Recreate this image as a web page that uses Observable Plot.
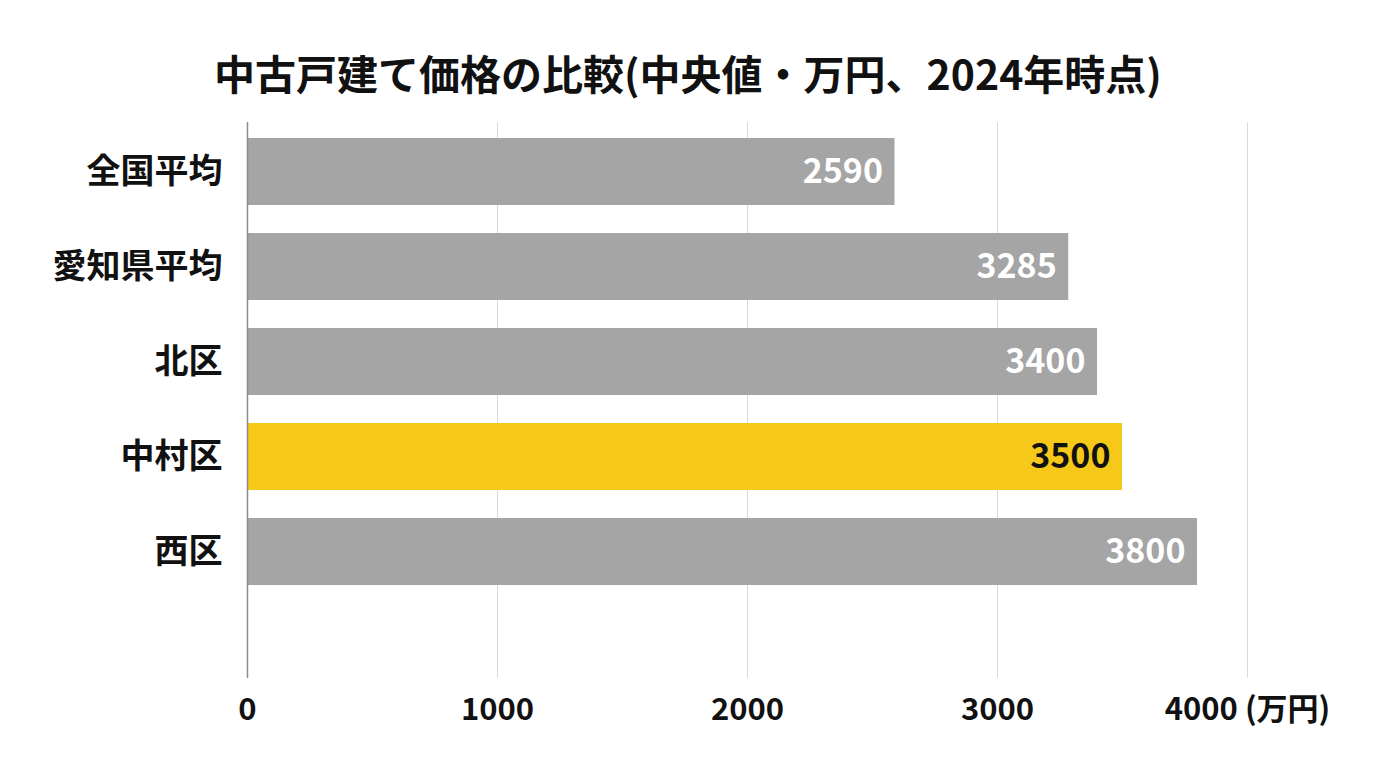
<!DOCTYPE html>
<html>
<head>
<meta charset="utf-8">
<script src="https://cdn.jsdelivr.net/npm/d3@7"></script>
<script src="https://cdn.jsdelivr.net/npm/@observablehq/plot@0.6"></script>
<style>
  html, body { margin: 0; padding: 0; background: #fff; }
  body { width: 1376px; height: 768px; overflow: hidden; font-family: "Noto Sans CJK JP", "Noto Sans", sans-serif; color: #111; }
  #title { box-sizing: border-box; height: 100px; padding-top: 52px; line-height: 41px; font-size: 41px; font-weight: 700; text-align: center; }
  #chart svg { display: block; }
</style>
</head>
<body>
<div id="title">中古戸建て価格の比較(中央値・万円、2024年時点)</div>
<div id="chart"></div>
<script>
const categories = ["全国平均", "愛知県平均", "北区", "中村区", "西区"];
const values = [2590, 3285, 3400, 3500, 3800];
const highlight = "中村区";
const xTicks = [0, 1000, 2000, 3000, 4000];
const unitLabel = "(万円)";

const grey = "#a5a5a5";
const yellow = "#f6c81a";

const data = categories.map((c, i) => ({cat: c, value: values[i]}));

const chart = Plot.plot({
  width: 1376,
  height: 668,
  marginLeft: 247,
  marginRight: 129,
  marginTop: 22,
  marginBottom: 90,
  style: {fontFamily: "'Noto Sans CJK JP', 'Noto Sans', sans-serif", background: "transparent", color: "#111"},
  color: {type: "identity"},
  x: {domain: [0, 4000]},
  y: {domain: categories, range: [22, 502], paddingInner: 0.29, paddingOuter: 0.155},
  marks: [
    Plot.gridX(xTicks, {stroke: "#d9d9d9", strokeOpacity: 1}),
    Plot.barX(data, {x: "value", y: "cat", fill: d => d.cat === highlight ? yellow : grey}),
    Plot.ruleX([0], {stroke: "#8c8c8c", strokeWidth: 1.5}),
    Plot.text(data, {
      x: "value", y: "cat", text: d => String(d.value),
      textAnchor: "end", dx: -12, fontSize: 34, fontWeight: "bold",
      fill: d => d.cat === highlight ? "#111" : "#ffffff"
    }),
    Plot.axisX(xTicks, {
      tickSize: 0, tickPadding: 19, fontSize: 31, fontWeight: "bold", label: null,
      tickFormat: d => d === 4000 ? `${d} ${unitLabel}` : String(d)
    }),
    Plot.axisY({tickSize: 0, tickPadding: 25, fontSize: 34, fontWeight: "bold", label: null})
  ]
});
document.getElementById("chart").appendChild(chart);
</script>
</body>
</html>
